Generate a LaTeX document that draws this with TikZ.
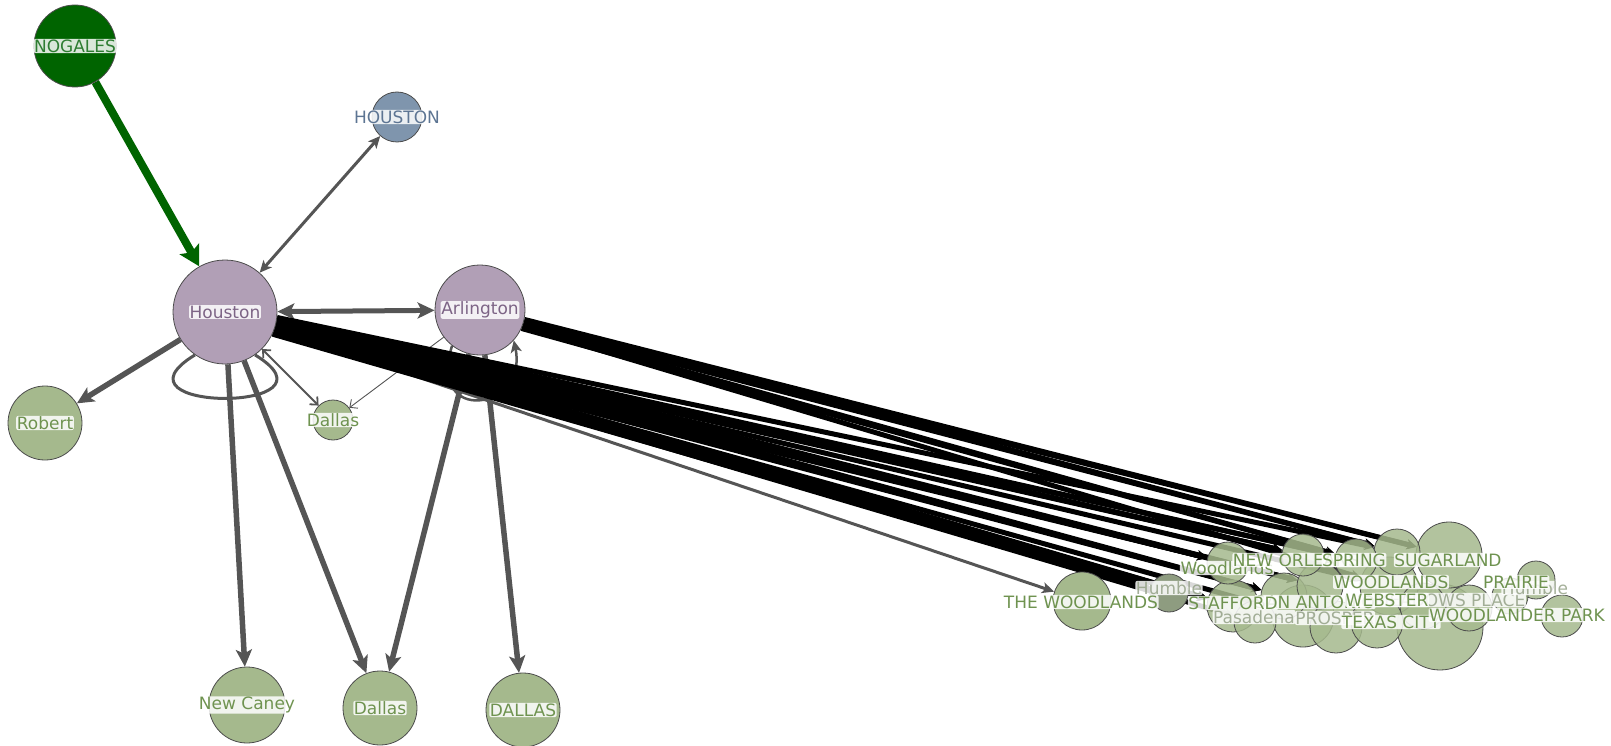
\documentclass[tikz,border=0pt]{standalone}
\usepackage{fontspec}
\setmainfont{DejaVu Sans}
\usetikzlibrary{arrows.meta,backgrounds}
\definecolor{purp}{HTML}{B19FB6}
\definecolor{purptext}{HTML}{7D6486}
\definecolor{sage}{HTML}{A5B98D}
\definecolor{gtext}{HTML}{6F9350}
\definecolor{nogfill}{HTML}{006400}
\definecolor{nogtext}{HTML}{2E7D32}
\definecolor{hfill}{HTML}{7F95AD}
\definecolor{htext}{HTML}{5D7593}
\definecolor{edgegray}{HTML}{555555}
\definecolor{grayg}{HTML}{8E9C80}
\newcommand{\lblfont}{\fontsize{17}{20}\selectfont}
\begin{document}
\begin{tikzpicture}[x=1pt,y=-1pt,
  vtx/.style={circle,draw=black!70,line width=0.8pt,inner sep=0pt},
  pv/.style={vtx,fill=purp},
  sv/.style={vtx,fill=sage},
  cv/.style={vtx,fill=sage,fill opacity=0.85,minimum size=#1},
  halo/.style={fill=white,fill opacity=0.85,text opacity=1,inner sep=0.6pt,rounded corners=2pt,font=\lblfont},
  gl/.style={halo,text=gtext},
  fl/.style={halo,text=grayg,text opacity=0.8},
  ge/.style={draw=edgegray},
  abig/.style={-{Stealth[length=17pt,width=16pt,inset=4pt]}},
  abigboth/.style={{Stealth[length=17pt,width=16pt,inset=4pt]}-{Stealth[length=17pt,width=16pt,inset=4pt]}},
  amid/.style={-{Stealth[length=12pt,width=11pt,inset=3pt]}},
  amidboth/.style={{Stealth[length=12pt,width=11pt,inset=3pt]}-{Stealth[length=12pt,width=11pt,inset=3pt]}},
  asmall/.style={-{Straight Barb[length=6pt,width=11pt]}},
  asmallboth/.style={{Straight Barb[length=6pt,width=11pt]}-{Straight Barb[length=6pt,width=11pt]}},
  bk/.style={draw=black,line width=5pt,-{Stealth[length=10pt,width=10pt]}}
]
\useasboundingbox (0,0) rectangle (1611,746);

% main nodes
\node[vtx,fill=nogfill,minimum size=82pt,label={[halo,text=nogtext]center:NOGALES}] (nog) at (75,46) {};
\node[vtx,fill=hfill,minimum size=50pt,label={[halo,text=htext]center:HOUSTON}] (HOU) at (397,117) {};
\node[pv,minimum size=104pt,label={[halo,text=purptext]center:Houston}] (ho) at (225,312) {};
\node[pv,minimum size=90pt,label={[halo,text=purptext]center:Arlington}] (ar) at (480,310) {};
\node[sv,minimum size=74pt,label={[gl]center:Robert}] (rob) at (45,423) {};
\node[sv,minimum size=40pt,label={[gl]center:Dallas}] (dsm) at (333,420) {};
\node[sv,minimum size=76pt,label={[gl]center:New Caney}] (nc) at (247,705) {};
\node[sv,minimum size=74pt,label={[gl]center:Dallas}] (dal) at (380,708) {};
\node[sv,minimum size=74pt,label={[gl]center:DALLAS}] (DAL) at (523,710) {};
\node[sv,minimum size=58pt] (tw) at (1082,601) {};

% cluster circles
\node[cv=86pt] (c12) at (1440,627) {};
\node[cv=66pt] (c11) at (1449,555) {};
\node[cv=62pt] (c6) at (1303,616) {};
\node[cv=58pt] (c10) at (1389,586) {};
\node[cv=52pt] (c3) at (1233,606) {};
\node[cv=52pt] (c7) at (1336,627) {};
\node[cv=52pt] (c16) at (1377,622) {};
\node[cv=46pt] (c17) at (1284,596) {};
\node[cv=46pt] (c18) at (1320,586) {};
\node[cv=46pt] (c19) at (1423,606) {};
\node[cv=46pt] (c9) at (1397,552) {};
\node[cv=46pt] (c13) at (1469,608) {};
\node[cv=42pt] (c2) at (1228,563) {};
\node[cv=42pt] (c4) at (1255,622) {};
\node[cv=42pt] (c5) at (1303,555) {};
\node[cv=42pt] (c8) at (1356,560) {};
\node[cv=42pt] (c15) at (1562,616) {};
\node[cv=38pt] (c14) at (1536,580) {};
\node[cv=36pt] (c20) at (1510,596) {};
\node[vtx,fill=grayg,minimum size=38pt] (c1) at (1169,593) {};

% edges
\begin{scope}[on background layer]
\draw[ge,line width=3pt] (ho.235) .. controls +(-95,58) and +(95,58) .. (ho.305);
\draw[ge,line width=2.5pt,amid] (ar.232) .. controls +(-25,80) and +(15,70) .. (ar.318);
\draw[draw=nogfill,line width=8pt,-{Stealth[length=20pt,width=22pt,inset=4pt]}] (nog) -- (ho);
\draw[ge,line width=3pt,amidboth] (ho) -- (HOU);
\draw[ge,line width=5pt,abigboth] (ho) -- (ar);
\draw[ge,line width=5.5pt,abig] (ho) -- (rob);
\draw[ge,line width=5.5pt,abig] (ho) -- (nc);
\draw[ge,line width=5.5pt,abig] (ho) -- (dal);
\draw[ge,line width=1.8pt,asmallboth] (ho) -- (dsm);
\draw[ge,line width=0.9pt,asmall] (ar) -- (dsm);
\draw[ge,line width=5.5pt,abig] (ar) -- (dal);
\draw[ge,line width=5.5pt,abig] (ar) -- (DAL);
\draw[ge,line width=3pt,amid] (ho) -- (tw);
\foreach \a/\t in {-6/c9,-7/c8,-8/c5,-9/c8,-10/c5,-11/c18,-12/c2,-13/c10,-14/c17,-15/c2,-16/c18,-17/c3,-18/c17,-19/c6,-20/c3,-21/c1,-22/c4,-23/c1,-24/c3,-25/c1,-8/c18,-10/c17,-12/c5,-14/c3,-16/c2,-18/c1,-20/c2,-22/c3}
  \draw[bk] (ho.\a) -- (\t);
\foreach \a/\t in {-12/c11,-14/c9,-16/c11,-18/c9,-20/c8,-22/c10,-24/c8}
  \draw[bk] (ar.\a) -- (\t);
\end{scope}

% cluster labels
\node[gl] (l1) at (1081,602) {THE WOODLANDS};
\node[fl] (l2) at (1169,588) {Humble};
\node[gl] (l3) at (1227,568) {Woodlands};
\node[fl] (l7) at (1254,617) {Pasadena};
\node[fl] (l8) at (1335,618) {PROSPER};
\node[fl] (l9) at (1450,600) {MEADOWS PLACE};
\node[fl] (l10) at (1535,588) {Humble};
\node[gl] (l4) at (1296,560) {NEW ORLEANS};
\node[gl] (l5) at (1354,560) {SPRING};
\node[gl] (l6) at (1448,560) {SUGARLAND};
\node[gl] (l11) at (1315,602) {SAN ANTONIO};
\node[gl] (l12) at (1233,603) {STAFFORD};
\node[gl] (l13) at (1387,600) {WEBSTER};
\node[gl] (l14) at (1391,582) {WOODLANDS};
\node[gl] (l15) at (1516,582) {PRAIRIE};
\node[gl] (l16) at (1391,622) {TEXAS CITY};
\node[gl] (l17) at (1517,615) {WOODLANDER PARK};
\end{tikzpicture}
\end{document}
